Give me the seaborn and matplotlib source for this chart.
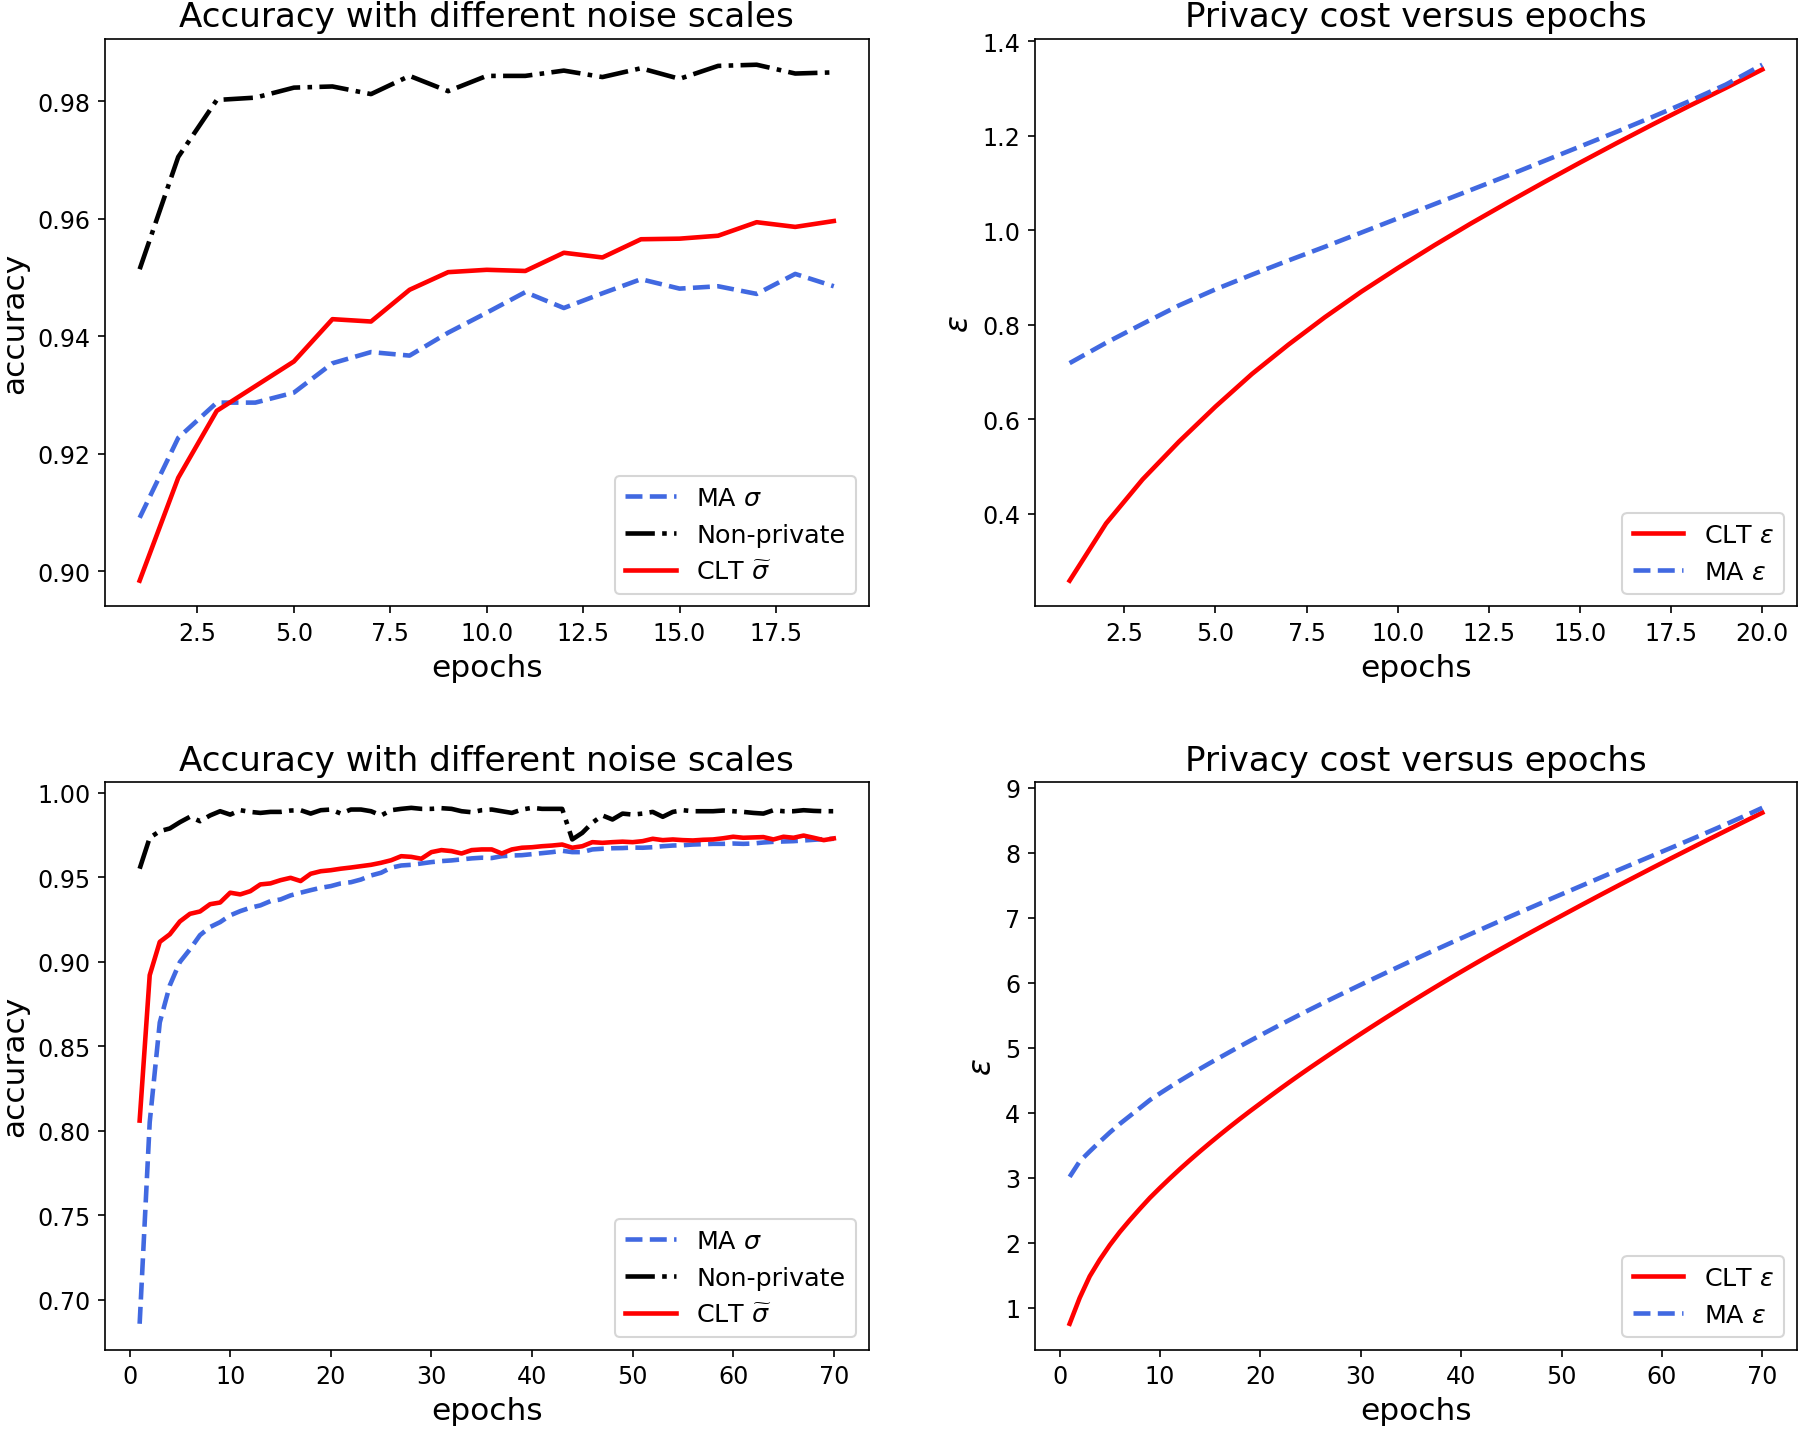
import matplotlib
matplotlib.use("Agg")
import matplotlib.pyplot as plt
import seaborn as sns

# ==========================================
# 1. data
# ==========================================
# --- top row: 20 epochs ---
epochs_a = list(range(1, 20))
acc_ma_a = [0.9091, 0.9227, 0.9287, 0.9287, 0.9304, 0.9354, 0.9373, 0.9367, 0.9406, 0.9440,
            0.9475, 0.9448, 0.9473, 0.9497, 0.9481, 0.9485, 0.9472, 0.9506, 0.9485]
acc_np_a = [0.9514, 0.9705, 0.9802, 0.9806, 0.9823, 0.9825, 0.9812, 0.9843, 0.9817, 0.9843,
            0.9843, 0.9852, 0.9841, 0.9856, 0.9838, 0.9860, 0.9862, 0.9847, 0.9849]
acc_clt_a = [0.8984, 0.9159, 0.9273, 0.9315, 0.9357, 0.9429, 0.9425, 0.9479, 0.9509, 0.9513,
             0.9511, 0.9542, 0.9534, 0.9565, 0.9566, 0.9571, 0.9594, 0.9586, 0.9596]

epochs_eps_a = list(range(1, 21))
eps_clt_a = [0.259, 0.380, 0.473, 0.553, 0.627, 0.696, 0.758, 0.816, 0.870, 0.920,
             0.968, 1.014, 1.058, 1.101, 1.143, 1.184, 1.224, 1.263, 1.301, 1.340]
eps_ma_a = [0.719, 0.762, 0.802, 0.841, 0.875, 0.906, 0.936, 0.965, 0.995, 1.025,
            1.055, 1.085, 1.115, 1.146, 1.177, 1.208, 1.240, 1.273, 1.308, 1.350]

# --- bottom row: 70 epochs ---
epochs_b = list(range(1, 71))
acc_ma_b = [0.6858, 0.805, 0.864, 0.886, 0.8998, 0.9073, 0.9157, 0.9205, 0.9234, 0.9274,
            0.9299, 0.9319, 0.9333, 0.9358, 0.9368, 0.9392, 0.9408, 0.9423, 0.9437, 0.9447,
            0.9463, 0.9470, 0.9486, 0.9510, 0.9526, 0.9556, 0.9569, 0.9573, 0.9581, 0.9589,
            0.9595, 0.9599, 0.9605, 0.9611, 0.9615, 0.9613, 0.9624, 0.9628, 0.9630, 0.9636,
            0.9642, 0.9648, 0.9656, 0.9648, 0.9648, 0.9664, 0.9668, 0.9671, 0.9672, 0.9675,
            0.9674, 0.9677, 0.9683, 0.9687, 0.9689, 0.9693, 0.9695, 0.9697, 0.9697, 0.9699,
            0.9697, 0.9699, 0.9705, 0.9709, 0.9711, 0.9713, 0.9717, 0.9721, 0.9725, 0.9727]
acc_np_b = [0.9550, 0.9733, 0.9772, 0.9788, 0.9825, 0.9857, 0.9831, 0.9865, 0.9890, 0.9870,
            0.9896, 0.9886, 0.9880, 0.9886, 0.9886, 0.9894, 0.9896, 0.9876, 0.9896, 0.9900,
            0.9876, 0.9900, 0.9900, 0.9890, 0.9865, 0.9896, 0.9904, 0.9910, 0.9904, 0.9904,
            0.9908, 0.9904, 0.9890, 0.9884, 0.9896, 0.9900, 0.9890, 0.9880, 0.9900, 0.9910,
            0.9904, 0.9904, 0.9904, 0.9723, 0.9762, 0.9822, 0.9865, 0.9841, 0.9876, 0.9870,
            0.9876, 0.9886, 0.9857, 0.9886, 0.9896, 0.9890, 0.9890, 0.9890, 0.9894, 0.9890,
            0.9886, 0.9880, 0.9876, 0.9896, 0.9890, 0.9890, 0.9896, 0.9892, 0.9890, 0.9890]
acc_clt_b = [0.806, 0.892, 0.9117, 0.9162, 0.9238, 0.9283, 0.9297, 0.9340, 0.9350, 0.9408,
             0.9398, 0.9417, 0.9457, 0.9463, 0.9482, 0.9496, 0.9477, 0.9520, 0.9535, 0.9541,
             0.9550, 0.9557, 0.9565, 0.9573, 0.9585, 0.9600, 0.9624, 0.9620, 0.9609, 0.9648,
             0.9660, 0.9654, 0.9640, 0.9660, 0.9664, 0.9664, 0.9640, 0.9664, 0.9674, 0.9677,
             0.9683, 0.9687, 0.9693, 0.9674, 0.9683, 0.9707, 0.9703, 0.9707, 0.9710, 0.9707,
             0.9713, 0.9727, 0.9719, 0.9723, 0.9719, 0.9717, 0.9721, 0.9723, 0.9730, 0.9739,
             0.9733, 0.9735, 0.9737, 0.9723, 0.9739, 0.9733, 0.9746, 0.9733, 0.9719, 0.9729]

eps_clt_b = [0.755, 1.153, 1.485, 1.739, 1.965, 2.167, 2.350, 2.524, 2.692, 2.845,
             2.993, 3.136, 3.274, 3.408, 3.538, 3.665, 3.789, 3.910, 4.028, 4.143,
             4.258, 4.371, 4.482, 4.591, 4.698, 4.803, 4.907, 5.010, 5.112, 5.213,
             5.313, 5.412, 5.510, 5.607, 5.703, 5.798, 5.892, 5.985, 6.077, 6.168,
             6.258, 6.347, 6.435, 6.522, 6.608, 6.694, 6.779, 6.863, 6.946, 7.029,
             7.112, 7.195, 7.277, 7.359, 7.440, 7.521, 7.601, 7.681, 7.761, 7.840,
             7.919, 7.997, 8.075, 8.153, 8.230, 8.307, 8.384, 8.461, 8.537, 8.613]
eps_ma_b = [3.014, 3.252, 3.405, 3.553, 3.696, 3.829, 3.951, 4.073, 4.196, 4.298,
            4.397, 4.493, 4.586, 4.677, 4.766, 4.853, 4.939, 5.024, 5.108, 5.191,
            5.273, 5.354, 5.434, 5.513, 5.591, 5.668, 5.744, 5.819, 5.894, 5.968,
            6.042, 6.115, 6.188, 6.260, 6.332, 6.403, 6.474, 6.544, 6.614, 6.683,
            6.752, 6.821, 6.889, 6.957, 7.025, 7.092, 7.159, 7.226, 7.293, 7.359,
            7.425, 7.491, 7.557, 7.623, 7.689, 7.754, 7.819, 7.884, 7.949, 8.014,
            8.079, 8.144, 8.210, 8.276, 8.343, 8.410, 8.478, 8.547, 8.617, 8.688]

# ==========================================
# 2. plotting
# ==========================================
BLUE = "royalblue"
LW = 2.2
TITLE_FS = 16.4
LABEL_FS = 15
TICK_FS = 11.4
LEGEND_FS = 12.2

fig = plt.figure(figsize=(12, 9.54), dpi=150)
ax_tl = fig.add_axes([0.0583, 0.5755, 0.4242, 0.3966])
ax_tr = fig.add_axes([0.5750, 0.5755, 0.4233, 0.3966])
ax_bl = fig.add_axes([0.0583, 0.0562, 0.4242, 0.3966])
ax_br = fig.add_axes([0.5750, 0.0562, 0.4233, 0.3966])


def accuracy_panel(ax, ep, ma, npv, clt):
    sns.lineplot(x=ep, y=ma, ax=ax, color=BLUE, linestyle="--", linewidth=LW,
                 label=r"MA $\sigma$")
    sns.lineplot(x=ep, y=npv, ax=ax, color="black", linestyle="-.", linewidth=LW,
                 label="Non-private")
    sns.lineplot(x=ep, y=clt, ax=ax, color="red", linestyle="-", linewidth=LW,
                 label=r"CLT $\widetilde{\sigma}$")
    ax.set_title("Accuracy with different noise scales", fontsize=TITLE_FS)
    ax.set_xlabel("epochs", fontsize=LABEL_FS)
    ax.set_ylabel("accuracy", fontsize=LABEL_FS)
    ax.tick_params(labelsize=TICK_FS)
    ax.legend(loc="lower right", fontsize=LEGEND_FS)


def privacy_panel(ax, ep, clt, ma):
    sns.lineplot(x=ep, y=clt, ax=ax, color="red", linestyle="-", linewidth=LW,
                 label=r"CLT $\epsilon$")
    sns.lineplot(x=ep, y=ma, ax=ax, color=BLUE, linestyle="--", linewidth=LW,
                 label=r"MA $\epsilon$")
    ax.set_title("Privacy cost versus epochs", fontsize=TITLE_FS)
    ax.set_xlabel("epochs", fontsize=LABEL_FS)
    ax.set_ylabel(r"$\epsilon$", fontsize=LABEL_FS)
    ax.tick_params(labelsize=TICK_FS)
    ax.legend(loc="lower right", fontsize=LEGEND_FS)


accuracy_panel(ax_tl, epochs_a, acc_ma_a, acc_np_a, acc_clt_a)
privacy_panel(ax_tr, epochs_eps_a, eps_clt_a, eps_ma_a)
accuracy_panel(ax_bl, epochs_b, acc_ma_b, acc_np_b, acc_clt_b)
privacy_panel(ax_br, epochs_b, eps_clt_b, eps_ma_b)

# ==========================================
# 3. save
# ==========================================
fig.savefig("out.png", dpi=150)
